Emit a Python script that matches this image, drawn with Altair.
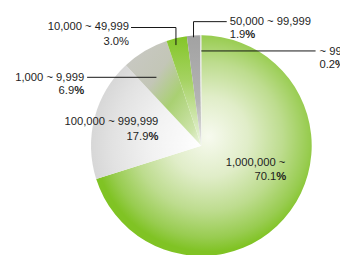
import altair as alt
import pandas as pd

categories = ["1,000,000 ~", "100,000 ~ 999,999", "1,000 ~ 9,999",
              "10,000 ~ 49,999", "50,000 ~ 99,999", "~ 999"]
shares = [70.1, 17.9, 6.9, 3.0, 1.9, 0.2]

df = pd.DataFrame({"cat": categories, "share": shares, "order": list(range(len(categories)))})

CX, CY, R = 198, 138, 113
FONT = "Liberation Sans"
FS = 11.5
TXT = "#1e1e1e"
PCT_W = 10.2  # width of the "%" glyph at FS


def radial(cx, cy, r, stops):
    return {"gradient": "radial", "x1": cx, "y1": cy, "r1": 0,
            "x2": cx, "y2": cy, "r2": r,
            "stops": [{"offset": o, "color": c} for o, c in stops]}


def linear(x1, y1, x2, y2, stops):
    return {"gradient": "linear", "x1": x1, "y1": y1, "x2": x2, "y2": y2,
            "stops": [{"offset": o, "color": c} for o, c in stops]}


fills = [
    radial(0.52, 0.46, 0.52, [(0, "#f7faef"), (0.35, "#e0edc8"), (0.65, "#bddc8e"),
                              (0.88, "#98cc50"), (1, "#80c324")]),
    radial(1.0, 0.7, 1.0, [(0, "#ffffff"), (0.45, "#f2f2f2"), (0.8, "#e2e2e2"), (1, "#d6d6d6")]),
    linear(0.1, 0.1, 1, 1, [(0, "#c8c8c2"), (0.3, "#c3c6b7"), (0.55, "#a9d072"),
                            (0.85, "#cde4aa"), (1, "#eef5e4")]),
    linear(0, 0, 0, 1, [(0, "#84c628"), (0.4, "#a5d262"), (1, "#eef5e4")]),
    linear(0, 0, 0, 1, [(0, "#a2a2a2"), (0.6, "#b4b4b4"), (1, "#e8e8e8")]),
    linear(0, 0, 0, 1, [(0, "#dedede"), (1, "#f4f4f4")]),
]

one = pd.DataFrame({"v": [1]})
layers = []
for i, g in enumerate(fills):
    layers.append(
        alt.Chart(df).mark_arc(outerRadius=R, fill=g, stroke=None).encode(
            theta=alt.Theta("share:Q", stack=True),
            order=alt.Order("order:Q"),
            x=alt.value(CX), y=alt.value(CY),
            opacity=alt.condition(f"datum.order == {i}", alt.value(1), alt.value(0)),
        )
    )


def txt(s, x, y, align="right", bold=False):
    return alt.Chart(one).mark_text(
        align=align, baseline="middle", font=FONT, fontSize=FS,
        fontWeight="bold" if bold else "normal", color=TXT
    ).encode(x=alt.value(x), y=alt.value(y), text=alt.value(s))


def rule(x1, y1, x2, y2):
    return alt.Chart(one).mark_rule(color="#111111", strokeWidth=1).encode(
        x=alt.value(x1), y=alt.value(y1), x2=alt.value(x2), y2=alt.value(y2)
    )


def pct_right(i, xr, y, bold=True):
    num = f"{shares[i]:.1f}"
    if bold:
        return [txt(num, xr - PCT_W, y), txt("%", xr, y, bold=True)]
    return [txt(num + "%", xr, y)]


def pct_left(i, xl, y, numw):
    num = f"{shares[i]:.1f}"
    return [txt(num, xl, y, align="left"), txt("%", xl + numw, y, align="left", bold=True)]


# 10,000 ~ 49,999
layers += [txt(categories[3], 124, 17)] + pct_right(3, 124, 32, bold=False)
layers += [rule(126, 17, 172, 17), rule(172, 17, 172, 35)]
# 50,000 ~ 99,999
layers += [txt(categories[4], 227, 11, align="left")] + pct_left(4, 227, 25, 16)
layers += [rule(190, 11, 224, 11), rule(190, 11, 190, 27)]
# ~ 999
layers += [txt(categories[5], 319, 42, align="left")] + pct_left(5, 319, 55, 16)
layers += [rule(198, 41, 315, 41)]
# 1,000 ~ 9,999
layers += [txt(categories[2], 78, 69)] + pct_right(2, 78, 82)
layers += [rule(81, 68, 152, 68)]
# 100,000 ~ 999,999
layers += [txt(categories[1], 154, 114)] + pct_right(1, 154, 129)
# 1,000,000 ~
layers += [txt(categories[0], 284, 156)] + pct_right(0, 285, 170)

chart = alt.layer(*layers).properties(
    width=340, height=247, autosize="none", padding=0
).configure_view(stroke=None)

chart.save("out.html", embed_options={"renderer": "svg", "actions": False})
